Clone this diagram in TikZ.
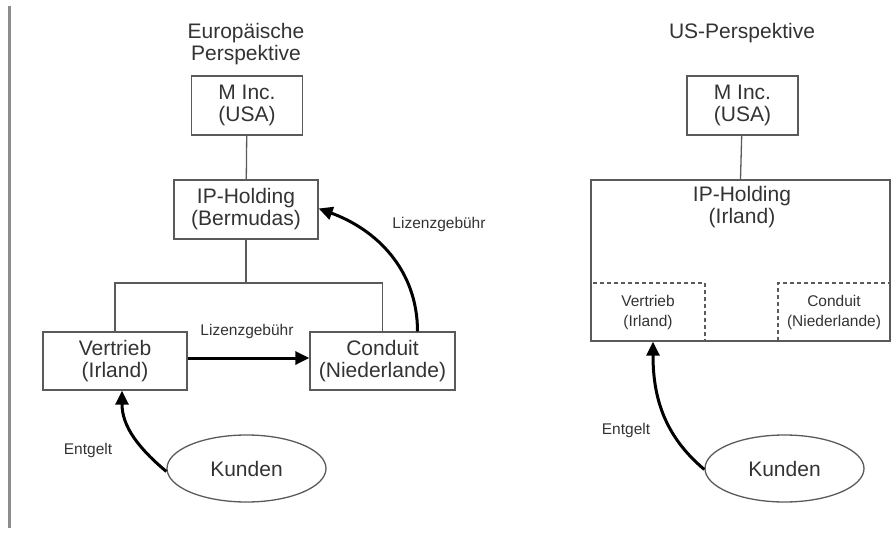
\documentclass[tikz,border=0pt]{standalone}
\usepackage{fontspec}
\setmainfont{Liberation Sans}
\usetikzlibrary{arrows.meta,shapes.geometric}
\definecolor{linegray}{HTML}{5A5A5A}
\definecolor{textgray}{HTML}{333333}
\definecolor{bargray}{HTML}{8C8C8C}
\tikzset{
    box/.style={rectangle, draw=linegray, line width=1.3pt, align=center, inner sep=0pt,
        text=textgray, font=\fontsize{21}{22}\selectfont},
    subbox/.style={box, dash pattern=on 4pt off 3pt, font=\fontsize{15.5}{20}\selectfont},
    title/.style={align=center, text=textgray, font=\fontsize{21}{22}\selectfont},
    note/.style={text=textgray, font=\fontsize{15.5}{18}\selectfont},
    tree/.style={draw=linegray, line width=1.3pt},
    flow/.style={draw=black, line width=3pt, -{Triangle[length=14pt,width=13pt]}}
}

\begin{document}
\begin{tikzpicture}[x=1pt, y=-1pt]
        \useasboundingbox (0,0) rectangle (892,535);
        \fill[bargray] (7.5,6) rectangle (10.5,528);

        % europaeische Sicht
        \node (eutitle) [title] at (246,44) {Europäische\\Perspektive};
        \node (minc) [box, minimum width=111pt, minimum height=59pt] at (247,105.5) {M Inc.\\(USA)};
        \node (iphold) [box, minimum width=144pt, minimum height=59pt] at (246,209.5) {IP-Holding\\(Bermudas)};
        \node (vertrieb) [box, minimum width=144pt, minimum height=58pt] at (115,361) {Vertrieb\\(Irland)};
        \node (conduit) [box, minimum width=145pt, minimum height=58pt] at (382.5,361) {Conduit\\(Niederlande)};
        \node (kunden) [box, ellipse, minimum width=159pt, minimum height=67pt] at (246.5,468.5) {Kunden};
        \coordinate (fork) at (246,283);

        \draw[tree] (minc) -- (iphold);
        \draw[tree] (iphold) -- (fork);
        \draw[tree] (vertrieb.north) -- (vertrieb.north |- fork) -- (conduit.north |- fork) -- (conduit.north);

        \draw[flow] ([yshift=3pt]vertrieb.east) -- ([yshift=3pt]conduit.west);
        \draw[flow] ([xshift=35pt]conduit.north) to[out=90, in=-20] ([yshift=1pt]iphold.east);
        \draw[flow] ([yshift=-3pt]kunden.west) to[out=140, in=-90] ([xshift=7pt]vertrieb.south);

        \node (lizenz1) [note] at (247,331) {Lizenzgebühr};
        \node (lizenz2) [note] at (439,224) {Lizenzgebühr};
        \node (entgelt1) [note] at (88,450) {Entgelt};

        % US-Sicht
        \node (ustitle) [title] at (742,33) {US-Perspektive};
        \node (minc2) [box, minimum width=111pt, minimum height=59pt] at (742.5,105.5) {M Inc.\\(USA)};
        \node (vertrieb2) [subbox, minimum width=114pt, minimum height=58pt] at (648,312) {Vertrieb\\(Irland)};
        \node (conduit2) [subbox, minimum width=112pt, minimum height=58pt] at (834,312) {Conduit\\(Niederlande)};
        \node (iphold2) [box, minimum width=299pt, minimum height=161pt] at (740.5,260.5) {};
        \node (holdtext) [title] at (742,207.5) {IP-Holding\\(Irland)};
        \node (kunden2) [box, ellipse, minimum width=159pt, minimum height=67pt] at (784.5,468.5) {Kunden};

        \draw[tree] (minc2) -- (iphold2.north);
        \draw[flow] ([yshift=-1pt]kunden2.west) to[out=140, in=-90] ([xshift=5pt]vertrieb2.south);

        \node (entgelt2) [note] at (626,430) {Entgelt};
\end{tikzpicture}
\end{document}
